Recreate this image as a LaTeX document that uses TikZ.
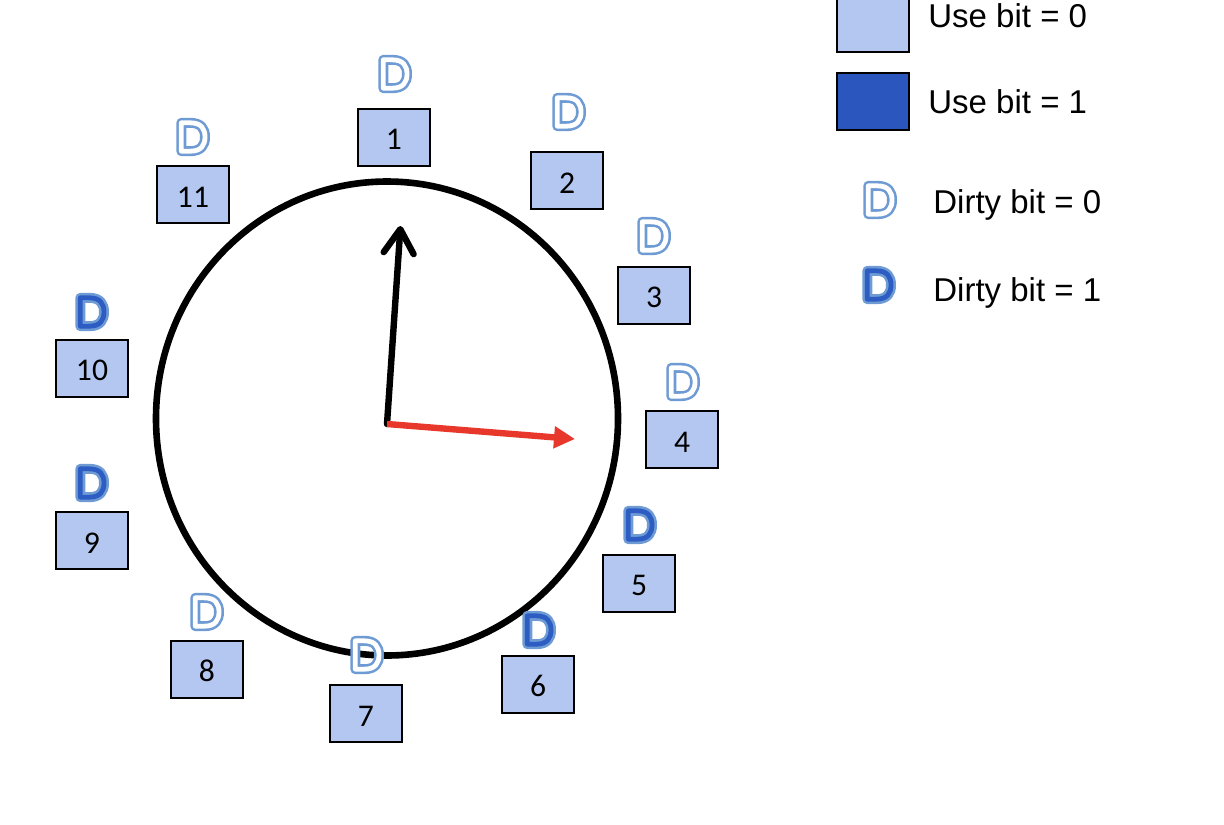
\documentclass[tikz,border=0pt]{standalone}
\usepackage{fontspec}
\setmainfont{Liberation Sans}
\newfontfamily\numfont{Carlito}
\usepackage{tikz}
\usetikzlibrary{arrows.meta}
\definecolor{usezero}{HTML}{B4C7F1}
\definecolor{useone}{HTML}{2A56BE}
\definecolor{dline}{HTML}{6F9BD4}
\definecolor{dfill}{HTML}{2D5DC2}
\definecolor{redhand}{HTML}{E8382B}
\tikzstyle{frame} = [draw, line width=1pt, minimum width=36pt, minimum height=28.5pt, inner sep=0pt, text height=12.5pt, fill=usezero, font=\numfont\fontsize{15.8}{18}\selectfont]
\tikzstyle{legend} = [anchor=base west, inner sep=0pt, font=\fontsize{16.5}{19}\selectfont]
\tikzstyle{dshape} = [line width=1.3pt, draw=dline, double distance=2.4pt, line join=round]
\tikzset{
  pics/dclean/.style={code={
    \draw[dshape, double=white] (-11.7,-14.2) -- (-3,-14.2) .. controls (8.5,-14.2) and (12,-8) .. (12,0)
      .. controls (12,8) and (8.5,14.2) .. (-3,14.2) -- (-11.7,14.2) -- cycle;}},
  pics/ddirty/.style={code={
    \draw[dshape, double=dfill] (-11.7,-14.2) -- (-3,-14.2) .. controls (8.5,-14.2) and (12,-8) .. (12,0)
      .. controls (12,8) and (8.5,14.2) .. (-3,14.2) -- (-11.7,14.2) -- cycle;}}
}

\begin{document}
\begin{tikzpicture}[x=0.5pt, y=-0.5pt]
        \useasboundingbox (0,0) rectangle (1224,824);

        % 时钟
        \draw [line width=3.3pt] (387,418.5) ellipse [x radius=115.5pt, y radius=118.5pt];
        \coordinate (hub) at (387,424);
        \coordinate (tip) at (400.5,226);
        \coordinate (next) at (575,439);

        % 页框
        \node [frame] (b1) at (394,137) {1};
        \node [frame] (b2) at (567,180.5) {2};
        \node [frame] (b3) at (654,295.5) {3};
        \node [frame] (b4) at (682,439.5) {4};
        \node [frame] (b5) at (639,583.5) {5};
        \node [frame] (b6) at (538,684.5) {6};
        \node [frame] (b7) at (366,713.5) {7};
        \node [frame] (b8) at (207,669.5) {8};
        \node [frame] (b9) at (92,540.5) {9};
        \node [frame] (b10) at (92,368) {10};
        \node [frame] (b11) at (193,194.5) {11};

        % 脏位
        \pic (d1) at (395,74) {dclean};
        \pic (d2) at (569,112) {dclean};
        \pic (d3) at (654,236) {dclean};
        \pic (d4) at (683,382) {dclean};
        \pic (d5) at (640,525) {ddirty};
        \pic (d6) at (539,630) {ddirty};
        \pic (d7) at (367,655) {dclean};
        \pic (d8) at (207,612) {dclean};
        \pic (d9) at (92,483) {ddirty};
        \pic (d10) at (92,312) {ddirty};
        \pic (d11) at (193,137) {dclean};

        % 指针
        \draw [line width=3.2pt, line cap=round, -{Straight Barb[length=12pt, width=15pt, line cap=round, line join=round]}] (hub) -- (tip);
        \draw [line width=3.2pt, redhand, -{Triangle[length=10.5pt, width=10.5pt]}] (hub) -- (next);

        % 图例
        \node [frame] (zero) at (873,23.5) {};
        \node [frame, fill=useone] (one) at (873,101.5) {};
        \node [legend] (zerotext) at (928,28) {Use bit = 0};
        \node [legend] (onetext) at (928,113) {Use bit = 1};
        \pic (dzero) at (880,200) {dclean};
        \pic (done) at (879,285) {ddirty};
        \node [legend] (cleantext) at (933,213) {Dirty bit = 0};
        \node [legend] (dirtytext) at (933,301) {Dirty bit = 1};
    \end{tikzpicture}
\end{document}
